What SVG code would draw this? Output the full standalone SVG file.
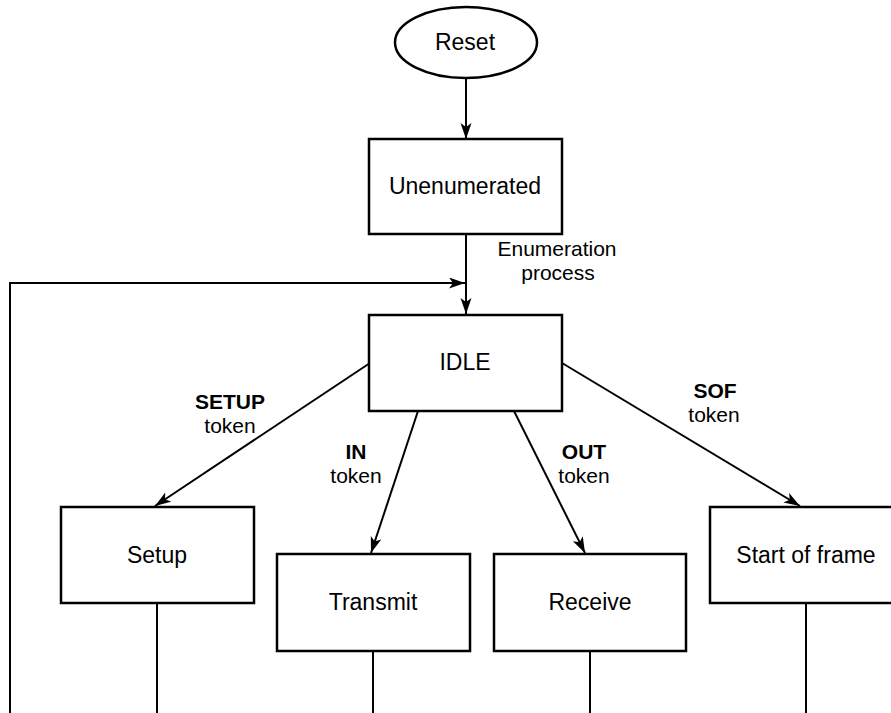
<svg xmlns="http://www.w3.org/2000/svg" width="891" height="713" viewBox="0 0 891 713">
<style>
.box{fill:#fff;stroke:#000;stroke-width:2.5}
.ln{fill:none;stroke:#000;stroke-width:2}
.t{font-family:"Liberation Sans",Arial,Helvetica,sans-serif;font-size:23px;fill:#000;text-anchor:middle}
.l{font-size:21px}
.b{font-weight:bold}
</style>
<defs>
<marker id="ah" markerUnits="userSpaceOnUse" markerWidth="18" markerHeight="12" refX="16" refY="5.5" orient="auto">
<path d="M0,0 L16,5.5 L0,11 L4,5.5 z" fill="#000"/>
</marker>
</defs>
<rect width="891" height="713" fill="#fff"/>
<g id="connectors">
<line class="ln" x1="466" y1="78" x2="466" y2="139" marker-end="url(#ah)"/>
<line class="ln" x1="466" y1="234" x2="466" y2="314" marker-end="url(#ah)"/>
<polyline class="ln" points="10,713 10,283 465,283" marker-end="url(#ah)"/>
<line class="ln" x1="370" y1="363" x2="155" y2="506" marker-end="url(#ah)"/>
<line class="ln" x1="418" y1="411" x2="371" y2="553" marker-end="url(#ah)"/>
<line class="ln" x1="514" y1="411" x2="585" y2="553" marker-end="url(#ah)"/>
<line class="ln" x1="562" y1="363" x2="800" y2="506" marker-end="url(#ah)"/>
<line class="ln" x1="157" y1="603" x2="157" y2="713"/>
<line class="ln" x1="373" y1="651" x2="373" y2="713"/>
<line class="ln" x1="590" y1="651" x2="590" y2="713"/>
<line class="ln" x1="806" y1="603" x2="806" y2="713"/>
<text class="t l" x="557" y="256">Enumeration</text>
<text class="t l" x="558" y="280">process</text>
<text class="t l b" x="230" y="409">SETUP</text>
<text class="t l" x="230" y="433">token</text>
<text class="t l b" x="356" y="459">IN</text>
<text class="t l" x="356" y="483">token</text>
<text class="t l b" x="584" y="459">OUT</text>
<text class="t l" x="584" y="483">token</text>
<text class="t l b" x="715" y="398">SOF</text>
<text class="t l" x="714" y="422">token</text>
</g>
<g id="reset">
<ellipse class="box" cx="466" cy="42.5" rx="71" ry="35.5"/>
<text class="t" x="465" y="50">Reset</text>
</g>
<g id="unenumerated">
<rect class="box" x="369" y="139" width="193" height="95"/>
<text class="t" x="465" y="194">Unenumerated</text>
</g>
<g id="idle">
<rect class="box" x="369" y="315" width="193" height="96"/>
<text class="t" x="465" y="370">IDLE</text>
</g>
<g id="setup">
<rect class="box" x="61" y="507" width="193" height="96"/>
<text class="t" x="157" y="563">Setup</text>
</g>
<g id="transmit">
<rect class="box" x="277" y="554" width="193" height="97"/>
<text class="t" x="373" y="610">Transmit</text>
</g>
<g id="receive">
<rect class="box" x="494" y="554" width="192" height="97"/>
<text class="t" x="590" y="610">Receive</text>
</g>
<g id="start-of-frame">
<rect class="box" x="710" y="507" width="193" height="96"/>
<text class="t" x="806" y="563">Start of frame</text>
</g>
</svg>
